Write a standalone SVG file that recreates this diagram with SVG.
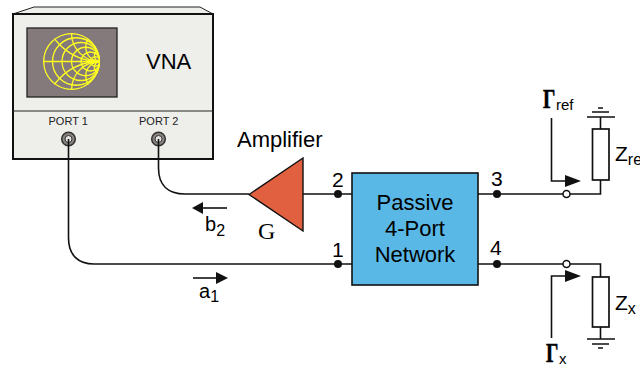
<svg xmlns="http://www.w3.org/2000/svg" width="640" height="367" viewBox="0 0 640 367">
<style>
text{font-family:"Liberation Sans",Arial,sans-serif;fill:#000}
.w{fill:none;stroke:#111;stroke-width:1.6}
.d{fill:#111}
.o{fill:#fff;stroke:#111;stroke-width:1.5}
.s{fill:none;stroke:#ffff1e;stroke-width:1.3}
.p{font-size:11px;fill:#222}
.n{font-size:22px}
.l{font-size:21px}
.g{font-family:"Liberation Serif",serif;font-weight:bold;font-size:27px;stroke:#000;stroke-width:.6}
.r{fill:#fff;stroke:#111;stroke-width:1.7}
.c{fill:#8a8582;stroke:#333;stroke-width:1.5}
</style>
<defs>
<clipPath id="sc"><circle cx="71.5" cy="61.5" r="28.5"/></clipPath>
</defs>
<g id="vna">
<path d="M13 14L34 7H200L213 14V159H13Z" fill="#eeeeea"/>
<path d="M13 14L34 7H200L213 14" fill="none" stroke="#222" stroke-width="1"/>
<rect x="13" y="14" width="200" height="145" fill="none" stroke="#111" stroke-width="2"/>
<path d="M13 111H213" stroke="#222" stroke-width="1.2"/>
<rect x="27" y="28" width="90" height="69" fill="#847a7c" stroke="#222" stroke-width="1.3"/>
<g clip-path="url(#sc)" class="s">
<circle cx="71.5" cy="61.5" r="28" stroke-width="1.6"/>
<circle cx="76.25" cy="61.5" r="23.75"/>
<circle cx="81" cy="61.5" r="19"/>
<circle cx="85.75" cy="61.5" r="14.25"/>
<circle cx="90.5" cy="61.5" r="9.5"/>
<circle cx="95.25" cy="61.5" r="4.75"/>
<path d="M43 61.500H100"/>
<circle cx="100" cy="4.500" r="57"/><circle cx="100" cy="118.500" r="57"/>
<circle cx="100" cy="33" r="28.5"/><circle cx="100" cy="90" r="28.5"/>
<circle cx="100" cy="47.25" r="14.25"/><circle cx="100" cy="75.75" r="14.25"/>
<circle cx="100" cy="55.8" r="5.7"/><circle cx="100" cy="67.2" r="5.7"/>
</g>
<text x="146" y="69" font-size="22">VNA</text>
<text x="48.500" y="125" class="p">PORT 1</text>
<text x="139" y="125" class="p">PORT 2</text>
</g>
<g id="port1"><circle cx="68.500" cy="139" r="6.800" class="c"/><circle cx="68.500" cy="139" r="3.500" fill="#e4e4e0" stroke="#333"/></g>
<g id="port2"><circle cx="158.500" cy="139" r="6.800" class="c"/><circle cx="158.500" cy="139" r="3.500" fill="#e4e4e0" stroke="#333"/></g>
<g id="connectors">
<path class="w" d="M68.500 139V238C68.500 255 78 264 94 264H352"/>
<path class="w" d="M158.500 139V168C158.500 185 168 194 185 194H249"/>
<path class="w" d="M303 194H352"/>
<path class="w" d="M478 194H600.500V180"/>
<path class="w" d="M478 264H600.500V277"/>
<path class="w" d="M600.500 129V117M587 117H615M592 112H609M598 108H603"/>
<path class="w" d="M600.500 327V339M587 339H615M592 344H609M598 348H603"/>
<circle class="d" cx="338" cy="194" r="4"/>
<circle class="d" cx="338" cy="264" r="4"/>
<circle class="d" cx="497" cy="194" r="4"/>
<circle class="d" cx="497" cy="264" r="4"/>
<circle class="o" cx="566.500" cy="194" r="3.500"/>
<circle class="o" cx="566.500" cy="264" r="3.500"/>
<path class="w" d="M551.500 118V181H568"/><path class="d" d="M565 175L581 181L565 187Z"/>
<path class="w" d="M551.500 338V276H568"/><path class="d" d="M565 270L581 276L565 282Z"/>
<path class="w" d="M227 208H200"/><path class="d" d="M203 202L192 208L203 214Z"/>
<path class="w" d="M193 278H218"/><path class="d" d="M216 272L228 278L216 284Z"/>
</g>
<g id="amplifier">
<path d="M249 194.500L303 158V231Z" fill="#e06040" stroke="#111" stroke-width="1.4"/>
<text x="237" y="147" font-size="22">Amplifier</text>
<text x="258" y="239" font-size="24" style="font-family:'Liberation Serif',serif">G</text>
</g>
<g id="network">
<rect x="352" y="173" width="126" height="112" fill="#5ab8e6" stroke="#111" stroke-width="1.6"/>
<text x="415" y="210" text-anchor="middle" class="n">Passive</text>
<text x="415" y="236" text-anchor="middle" class="n">4-Port</text>
<text x="415" y="262" text-anchor="middle" class="n">Network</text>
</g>
<g id="labels">
<text x="332" y="187" class="l">2</text>
<text x="332" y="257" class="l">1</text>
<text x="491" y="186" class="l">3</text>
<text x="490" y="255" class="l">4</text>
<text x="205" y="231" font-size="20">b<tspan font-size="16" dy="5">2</tspan></text>
<text x="199" y="298" font-size="20">a<tspan font-size="16" dy="4">1</tspan></text>
<text transform="translate(543 108) scale(.72 1)" class="g">Γ</text>
<text x="556" y="110" font-size="15">ref</text>
<text transform="translate(546 362) scale(.72 1)" class="g">Γ</text>
<text x="559" y="364" font-size="15">x</text>
</g>
<g id="zref"><rect class="r" x="592.500" y="129" width="16.500" height="51"/><text x="615" y="161" font-size="21">Z<tspan font-size="16" dy="4">ref</tspan></text></g>
<g id="zx"><rect class="r" x="592.500" y="277" width="16.500" height="50"/><text x="615" y="310" font-size="21">Z<tspan font-size="16" dy="4">x</tspan></text></g>
</svg>
